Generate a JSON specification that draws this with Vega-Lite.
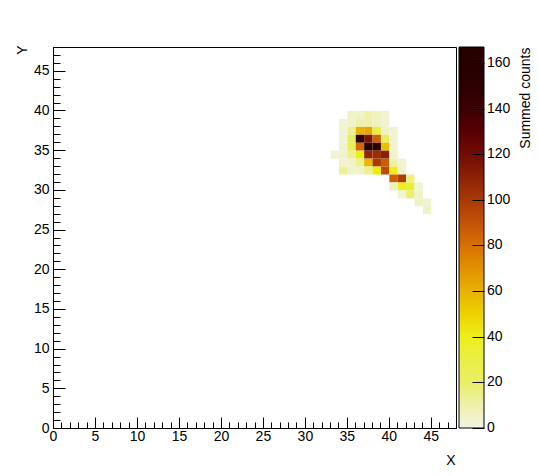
{
  "$schema": "https://vega.github.io/schema/vega-lite/v6.json",
  "width": 403,
  "height": 381,
  "autosize": "none",
  "padding": {"left": 53, "top": 47, "right": 82, "bottom": 48},
  "background": "white",
  "config": {
    "font": "Liberation Sans",
    "view": {"stroke": "black", "strokeWidth": 1},
    "axis": {"grid": false, "domainColor": "black", "tickColor": "black", "labelColor": "black", "titleColor": "black", "labelFontSize": 14, "titleFontSize": 14, "titleFontWeight": "normal", "labelFlush": false, "labelOverlap": false, "labelFont": "Liberation Sans", "titleFont": "Liberation Sans"}
  },
  "data": {
    "values": [
      {"x": 35, "y": 39, "v": 5}, {"x": 36, "y": 39, "v": 5}, {"x": 37, "y": 39, "v": 10}, {"x": 38, "y": 39, "v": 7}, {"x": 39, "y": 39, "v": 3},
      {"x": 34, "y": 38, "v": 3}, {"x": 35, "y": 38, "v": 5}, {"x": 36, "y": 38, "v": 10}, {"x": 37, "y": 38, "v": 10}, {"x": 38, "y": 38, "v": 7}, {"x": 39, "y": 38, "v": 4},
      {"x": 34, "y": 37, "v": 3}, {"x": 35, "y": 37, "v": 14}, {"x": 36, "y": 37, "v": 60}, {"x": 37, "y": 37, "v": 63}, {"x": 38, "y": 37, "v": 31}, {"x": 39, "y": 37, "v": 6}, {"x": 40, "y": 37, "v": 3},
      {"x": 34, "y": 36, "v": 3}, {"x": 35, "y": 36, "v": 22}, {"x": 36, "y": 36, "v": 145}, {"x": 37, "y": 36, "v": 116}, {"x": 38, "y": 36, "v": 85}, {"x": 39, "y": 36, "v": 21}, {"x": 40, "y": 36, "v": 4},
      {"x": 34, "y": 35, "v": 4}, {"x": 35, "y": 35, "v": 24}, {"x": 36, "y": 35, "v": 83}, {"x": 37, "y": 35, "v": 167}, {"x": 38, "y": 35, "v": 148}, {"x": 39, "y": 35, "v": 56}, {"x": 40, "y": 35, "v": 4},
      {"x": 33, "y": 34, "v": 3}, {"x": 34, "y": 34, "v": 4}, {"x": 35, "y": 34, "v": 14}, {"x": 36, "y": 34, "v": 41}, {"x": 37, "y": 34, "v": 108}, {"x": 38, "y": 34, "v": 104}, {"x": 39, "y": 34, "v": 111}, {"x": 40, "y": 34, "v": 5},
      {"x": 34, "y": 33, "v": 4}, {"x": 35, "y": 33, "v": 5}, {"x": 36, "y": 33, "v": 14}, {"x": 37, "y": 33, "v": 58}, {"x": 38, "y": 33, "v": 100}, {"x": 39, "y": 33, "v": 87}, {"x": 40, "y": 33, "v": 10}, {"x": 41, "y": 33, "v": 4},
      {"x": 34, "y": 32, "v": 13}, {"x": 35, "y": 32, "v": 5}, {"x": 36, "y": 32, "v": 5}, {"x": 37, "y": 32, "v": 13}, {"x": 38, "y": 32, "v": 42}, {"x": 39, "y": 32, "v": 93}, {"x": 40, "y": 32, "v": 40}, {"x": 41, "y": 32, "v": 5},
      {"x": 40, "y": 31, "v": 86}, {"x": 41, "y": 31, "v": 98}, {"x": 42, "y": 31, "v": 15},
      {"x": 40, "y": 30, "v": 7}, {"x": 41, "y": 30, "v": 39}, {"x": 42, "y": 30, "v": 37}, {"x": 43, "y": 30, "v": 3},
      {"x": 41, "y": 29, "v": 3}, {"x": 42, "y": 29, "v": 19}, {"x": 43, "y": 29, "v": 6},
      {"x": 43, "y": 28, "v": 6}, {"x": 44, "y": 28, "v": 3},
      {"x": 44, "y": 27, "v": 6}
    ]
  },
  "layer": [
    {
      "mark": {"type": "rect", "binSpacing": 0, "strokeWidth": 0},
      "encoding": {
        "x": {
          "field": "x", "type": "quantitative",
          "bin": {"extent": [0, 48], "step": 1},
          "scale": {"domain": [0, 48], "nice": false, "zero": false},
          "axis": {
            "title": "X",
            "values": [0,1,2,3,4,5,6,7,8,9,10,11,12,13,14,15,16,17,18,19,20,21,22,23,24,25,26,27,28,29,30,31,32,33,34,35,36,37,38,39,40,41,42,43,44,45,46,47,48],
            "labelExpr": "datum.value % 5 === 0 ? datum.label : ''",
            "tickSize": {"condition": {"test": "datum.value % 5 === 0", "value": -11}, "value": -6},
            "labelPadding": 12,
            "titleX": 402, "titleY": 25, "titleAlign": "right", "titleBaseline": "top"
          }
        },
        "y": {
          "field": "y", "type": "quantitative",
          "bin": {"extent": [0, 48], "step": 1},
          "scale": {"domain": [0, 48], "nice": false, "zero": false},
          "axis": {
            "orient": "left",
            "title": "Y",
            "values": [0,1,2,3,4,5,6,7,8,9,10,11,12,13,14,15,16,17,18,19,20,21,22,23,24,25,26,27,28,29,30,31,32,33,34,35,36,37,38,39,40,41,42,43,44,45,46,47,48],
            "labelExpr": "datum.value % 5 === 0 ? datum.label : ''",
            "tickSize": {"condition": {"test": "datum.value % 5 === 0", "value": -12}, "value": -7},
            "labelPadding": 16,
            "titleX": -31, "titleY": -2, "titleAngle": 270, "titleAlign": "right", "titleBaseline": "middle"
          }
        },
        "color": {
          "field": "v", "type": "quantitative",
          "scale": {
            "domain": [-0.01, 20.875, 41.75, 62.625, 83.5, 104.375, 125.25, 146.125, 167],
            "range": ["#f2f3e6", "#eaee5f", "#edee0b", "#e6a808", "#d46509", "#9c2d03", "#630001", "#2d0001", "#000000"]
          },
          "legend": {
            "orient": "none", "legendX": 406, "legendY": 0,
            "direction": "vertical",
            "gradientLength": 381, "gradientThickness": 25,
            "gradientStrokeColor": "black", "gradientStrokeWidth": 1,
            "values": [0, 20, 40, 60, 80, 100, 120, 140, 160],
            "labelFontSize": 14, "labelOffset": 3, "labelColor": "black", "labelFont": "Liberation Sans", "labelOverlap": false,
            "title": null,
            "padding": 0,
            "zindex": 0
          }
        }
      }
    },
    {
      "mark": {"type": "point", "opacity": 0, "size": 0},
      "encoding": {
        "y": {
          "field": "v", "type": "quantitative",
          "scale": {"domain": [0, 167], "nice": false, "zero": false},
          "axis": {
            "orient": "right", "offset": 28, "zindex": 5,
            "values": [0, 20, 40, 60, 80, 100, 120, 140, 160],
            "labels": false, "domain": false,
            "tickSize": -12, "tickColor": "black", "tickWidth": 1,
            "title": "Summed counts",
            "titleX": 45, "titleY": 0, "titleAngle": 270, "titleAlign": "right", "titleBaseline": "alphabetic",
            "titleFontSize": 14, "titleFontWeight": "normal", "titleColor": "black"
          }
        }
      }
    }
  ],
  "resolve": {"scale": {"y": "independent"}, "axis": {"y": "independent"}}
}
